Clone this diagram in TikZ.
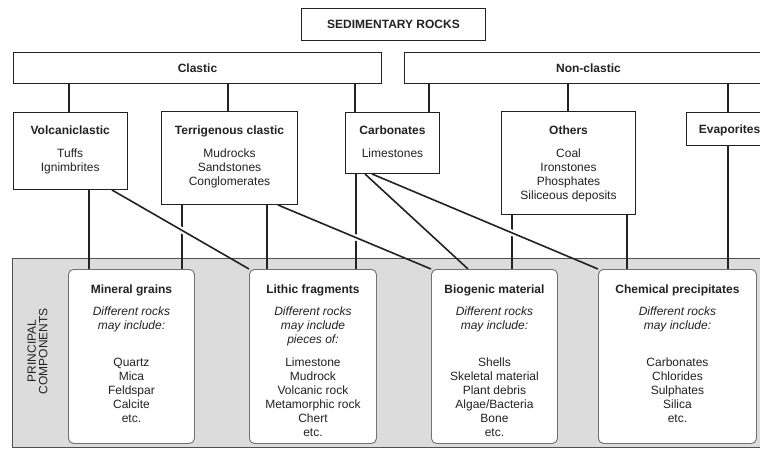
\documentclass[tikz,border=0pt]{standalone}
\usepackage{fontspec}
\setmainfont{Liberation Sans}
\pgfdeclarelayer{back}
\pgfdeclarelayer{conns}
\pgfsetlayers{back,conns,main}
\definecolor{ink}{HTML}{222222}
\definecolor{bandfill}{HTML}{DCDCDC}
\definecolor{bandline}{HTML}{505050}
\definecolor{cardline}{HTML}{707070}
\newcommand{\bxt}[3]{\parbox[c][#2][t]{#1}{\centering #3}}
\begin{document}
\begin{tikzpicture}[x=1pt,y=-1pt,
  every node/.style={text=ink, font=\fontsize{12}{14}\selectfont},
  hbox/.style={draw=ink, line width=1pt, fill=white, inner sep=0pt, anchor=north west},
  sbox/.style={hbox, text height=8.6pt, text depth=0pt, font=\fontsize{12}{14}\selectfont\bfseries},
  card/.style={draw=cardline, line width=0.9pt, fill=white, rounded corners=5pt, inner sep=0pt, anchor=north west},
  conn/.style={draw=ink, line width=1.6pt},
  halo/.style={draw=white, line width=6pt},
]
\clip (0,0) rectangle (760,450);

% top level
\node[sbox, minimum width=184pt, minimum height=32pt] (sed) at (301,8) {SEDIMENTARY ROCKS};
\node[sbox, minimum width=368pt, minimum height=31pt] (clastic) at (13,52) {Clastic};
\node[sbox, minimum width=368pt, minimum height=31pt] (nonclastic) at (404,52) {Non-clastic};

% second level
\node[hbox] (volc) at (12.7,112) {\bxt{114pt}{77pt}{\rule{0pt}{21.5pt}\textbf{Volcaniclastic}\\[9.5pt] Tuffs\\ Ignimbrites}};
\node[hbox] (terr) at (161,111) {\bxt{136pt}{93pt}{\rule{0pt}{22.5pt}\textbf{Terrigenous clastic}\\[9.5pt] Mudrocks\\ Sandstones\\ Conglomerates}};
\node[hbox] (carb) at (345,112) {\bxt{94pt}{61pt}{\rule{0pt}{21.5pt}\textbf{Carbonates}\\[9.5pt] Limestones}};
\node[hbox] (others) at (501,111) {\bxt{134pt}{103pt}{\rule{0pt}{22.5pt}\textbf{Others}\\[9.5pt] Coal\\ Ironstones\\ Phosphates\\ Siliceous deposits}};
\node[sbox, minimum width=86pt, minimum height=33pt] (evap) at (686,112) {Evaporites};

% band
\begin{pgfonlayer}{back}
\node[draw=bandline, fill=bandfill, line width=0.8pt, minimum width=770pt, minimum height=189pt, inner sep=0pt, anchor=north west] (band) at (12,258) {};
\end{pgfonlayer}
\node[rotate=90, align=center, font=\fontsize{12}{11.5}\selectfont] (pc) at (37.5,351) {PRINCIPAL\\COMPONENTS};

% principal components
\node[card] (mineral) at (68,269) {\bxt{126pt}{174pt}{\rule{0pt}{24.3pt}\textbf{Mineral grains}\\[8pt] \textit{Different rocks}\\ \textit{may include:}\\[23pt] Quartz\\ Mica\\ Feldspar\\ Calcite\\ etc.}};
\node[card] (lithic) at (249,269) {\bxt{127pt}{174pt}{\rule{0pt}{24.3pt}\textbf{Lithic fragments}\\[8pt] \textit{Different rocks}\\ \textit{may include}\\ \textit{pieces of:}\\[9pt] Limestone\\ Mudrock\\ Volcanic rock\\ Metamorphic rock\\ Chert\\ etc.}};
\node[card] (biogenic) at (431,269) {\bxt{126pt}{174pt}{\rule{0pt}{24.3pt}\textbf{Biogenic material}\\[8pt] \textit{Different rocks}\\ \textit{may include:}\\[23pt] Shells\\ Skeletal material\\ Plant debris\\ Algae/Bacteria\\ Bone\\ etc.}};
\node[card] (chem) at (598,269) {\bxt{158pt}{174pt}{\rule{0pt}{24.3pt}\textbf{Chemical precipitates}\\[8pt] \textit{Different rocks}\\ \textit{may include:}\\[23pt] Carbonates\\ Chlorides\\ Sulphates\\ Silica\\ etc.}};

\begin{pgfonlayer}{conns}
% upper verticals
\draw[conn] (clastic.south -| 69,0) -- (volc.north -| 69,0);
\draw[conn] (clastic.south -| 228,0) -- (terr.north -| 228,0);
\draw[conn] (clastic.south -| 355,0) -- (carb.north -| 355,0);
\draw[conn] (nonclastic.south -| 429,0) -- (carb.north -| 429,0);
\draw[conn] (nonclastic.south -| 568,0) -- (others.north -| 568,0);
\draw[conn] (nonclastic.south -| 728,0) -- (evap.north -| 728,0);
% lower verticals
\draw[conn] (volc.south -| 89,0) -- (mineral.north -| 89,0);
\draw[conn] (terr.south -| 182,0) -- (mineral.north -| 182,0);
\draw[conn] (terr.south -| 267,0) -- (lithic.north -| 267,0);
\draw[conn] (carb.south -| 356,0) -- (lithic.north -| 356,0);
\draw[conn] (others.south -| 512,0) -- (biogenic.north -| 512,0);
\draw[conn] (others.south -| 627,0) -- (chem.north -| 627,0);
\draw[conn] (evap.south -| 728,0) -- (chem.north -| 728,0);
% halos for crossings
\begin{scope}
\clip (0,0) rectangle (760,255);
\draw[halo] (volc.south -| 112,0) -- (lithic.north west);
\draw[halo] (terr.south -| 278,0) -- (biogenic.north west);
\draw[halo] (carb.south -| 365,0) -- (biogenic.north -| 468,0);
\draw[halo] (carb.south -| 372,0) -- (chem.north west);
\end{scope}
% diagonals
\draw[conn] (volc.south -| 112,0) -- (lithic.north west);
\draw[conn] (terr.south -| 278,0) -- (biogenic.north west);
\draw[conn] (carb.south -| 365,0) -- (biogenic.north -| 468,0);
\draw[conn] (carb.south -| 372,0) -- (chem.north west);
\end{pgfonlayer}
\end{tikzpicture}
\end{document}
